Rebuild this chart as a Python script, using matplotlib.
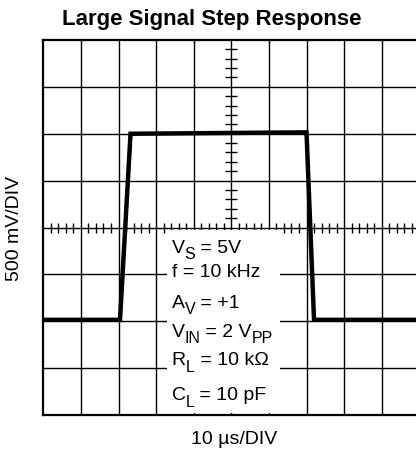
"""Large signal step response, scope-style grid (10 x 8 divisions)."""
import matplotlib
matplotlib.use("Agg")
import matplotlib.pyplot as plt
import numpy as np
from matplotlib.patches import Rectangle

# waveform, x in time divisions, y in volt divisions (0 = centre line)
time_div = [0.0, 2.04, 2.32, 7.0, 7.2, 10.2]
volt_div = [-1.97, -1.97, 2.0, 2.03, -1.97, -1.97]

n_xdiv = 10
n_ydiv = 8

# test conditions: pieces of (text, is_subscript)
cond_lines = [
    [("V", False), ("S", True), (" = 5V", False)],
    [("f = 10 kHz", False)],
    [("A", False), ("V", True), (" = +1", False)],
    [("V", False), ("IN", True), (" = 2 V", False), ("PP", True)],
    [("R", False), ("L", True), (" = 10 kΩ", False)],
    [("C", False), ("L", True), (" = 10 pF", False)],
]
cond_y = [-0.54, -1.05, -1.71, -2.33, -2.93, -3.68]

title = "Large Signal Step Response"
xlabel = "10 µs/DIV"
ylabel = "500 mV/DIV"

plt.rcParams["font.family"] = ["Liberation Sans", "DejaVu Sans"]

W, H = 416, 453
fig = plt.figure(figsize=(W / 100, H / 100), dpi=100)
left, right, top, bottom = 43.3, 419.3, 40.0, 415.0
ax = fig.add_axes([left / W, 1 - bottom / H, (right - left) / W, (bottom - top) / H])
ax.set_xlim(0, n_xdiv)
ax.set_ylim(-n_ydiv / 2, n_ydiv / 2)

# grid
for xv in range(1, n_xdiv):
    ax.axvline(xv, color="black", lw=1.0, zorder=1)
for yv in range(-n_ydiv // 2 + 1, n_ydiv // 2):
    ax.axhline(yv, color="black", lw=1.0, zorder=1)

# minor ticks on the centre lines
xm = np.array([x for x in np.arange(0, n_xdiv + 0.01, 0.2) if abs(x - round(x)) > 0.01])
ym = np.array([y for y in np.arange(-4, 4.01, 0.2) if abs(y - round(y)) > 0.01])
ax.plot(xm, np.zeros_like(xm), ls="none", marker="|", ms=7, mew=1.0, color="black", zorder=1)
ax.plot(np.full_like(ym, n_xdiv / 2), ym, ls="none", marker="_", ms=8, mew=1.0, color="black", zorder=1)

for s in ax.spines.values():
    s.set_linewidth(1.6)
ax.set_xticks([])
ax.set_yticks([])

# waveform
ax.plot(time_div, volt_div, color="black", lw=3.2, solid_joinstyle="miter", zorder=4)

# conditions box
ax.add_patch(Rectangle((3.3, -3.95), 2.99, 3.9, facecolor="white", edgecolor="none", zorder=2))
renderer = fig.canvas.get_renderer()
for pieces, yv in zip(cond_lines, cond_y):
    dx = 0.0  # running offset in pixels
    for txt, sub in pieces:
        t = ax.annotate(txt, xy=(3.41, yv), xytext=(dx * 0.72, -4.8 if sub else 0),
                        textcoords="offset points", fontsize=11.5 if sub else 14,
                        va="baseline", ha="left", zorder=3)
        dx += t.get_window_extent(renderer).width

fig.text(211.7 / W, 1 - 19 / H, title, fontsize=16, fontweight="bold", ha="center", va="center")
fig.text(234 / W, 1 - 439 / H, xlabel, fontsize=14, ha="center", va="center")
fig.text(15 / W, 1 - 228 / H, ylabel, fontsize=14, ha="center", va="center", rotation=90)

fig.savefig("out.png", dpi=100)
